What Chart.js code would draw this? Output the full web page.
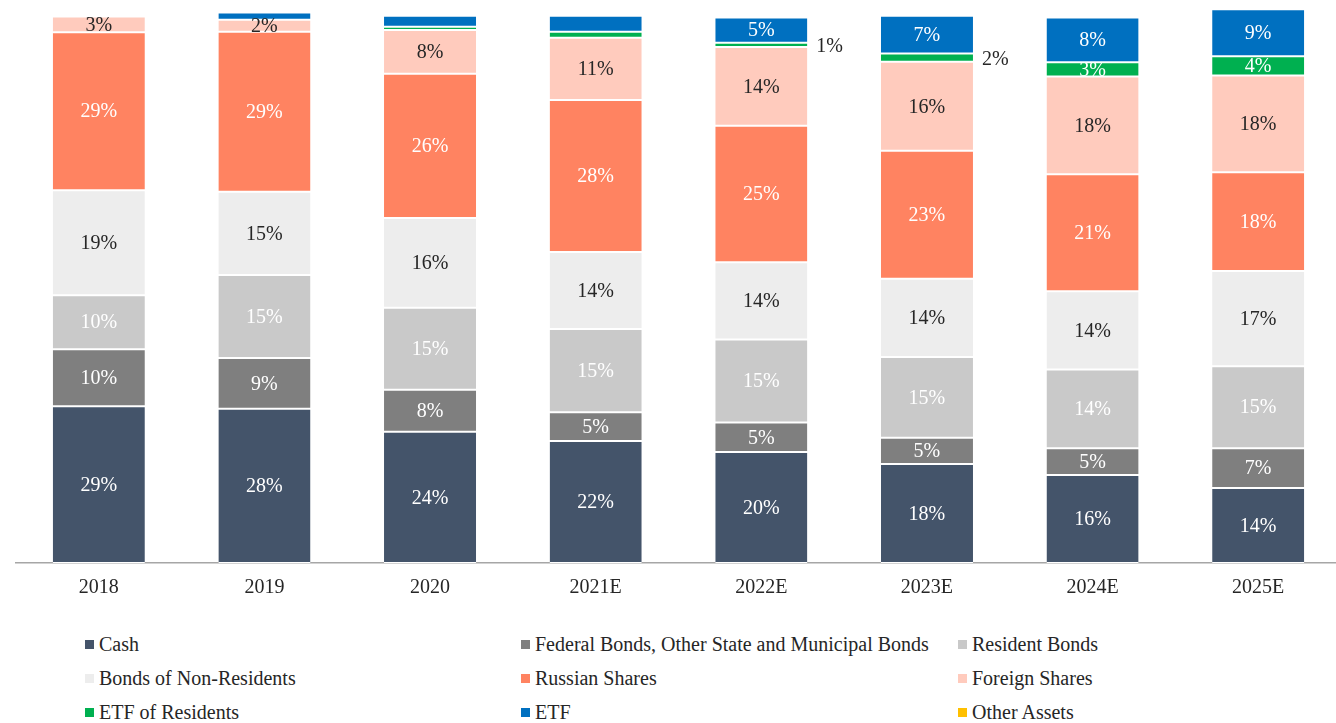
<!DOCTYPE html>
<html>
<head>
<meta charset="utf-8">
<script src="https://cdn.jsdelivr.net/npm/chart.js@4"></script>
<style>
  body { margin: 0; overflow: hidden; background: #fff; font-family: "Liberation Serif", serif; }
  #wrap { position: absolute; left: 0; top: 0; width: 1341px; height: 610px; }
  #legend { position: absolute; left: 0; top: 627px; width: 1336px; }
  .row { height: 34px; position: relative; }
  .item { position: absolute; top: 0; height: 34px; line-height: 34px; font-size: 20px; color: #262626; white-space: nowrap; }
  .box { position: absolute; left: 0; top: 13px; width: 9px; height: 9px; }
  .txt { position: absolute; left: 14px; top: 0; }
</style>
</head>
<body>
<div id="wrap"><canvas id="myChart"></canvas></div>
<div id="legend"></div>
<script>
var categories = ['2018', '2019', '2020', '2021E', '2022E', '2023E', '2024E', '2025E'];

var cash             = [28.7, 28.2, 24.0, 22.3, 20.3, 18.1, 16.1, 13.7];
var federalBonds     = [10.4, 9.3, 7.7, 5.3, 5.4, 4.8, 4.9, 7.3];
var residentBonds    = [9.9, 15.2, 15.0, 15.2, 15.2, 14.8, 14.4, 15.0];
var nonResidentBonds = [19.2, 15.2, 16.4, 14.1, 14.1, 14.3, 14.3, 17.4];
var russianShares    = [28.9, 29.3, 26.4, 27.8, 25.0, 23.4, 21.4, 18.1];
var foreignShares    = [2.9, 2.2, 8.0, 11.4, 14.4, 16.3, 17.9, 17.7];
var etfResidents     = [0, 0, 0.6, 1.1, 0.8, 1.5, 2.6, 3.5];
var etf              = [0, 1.3, 2.0, 2.9, 4.6, 6.9, 8.2, 8.6];
var otherAssets      = [0, 0, 0, 0, 0, 0, 0, 0];

var seriesNames = ['Cash', 'Federal Bonds, Other State and Municipal Bonds', 'Resident Bonds',
  'Bonds of Non-Residents', 'Russian Shares', 'Foreign Shares', 'ETF of Residents', 'ETF', 'Other Assets'];
var seriesData = [cash, federalBonds, residentBonds, nonResidentBonds, russianShares, foreignShares, etfResidents, etf, otherAssets];
var colors = ['#44546A', '#7F7F7F', '#C9C9C9', '#EDEDED', '#FF8361', '#FFCBBD', '#00B050', '#0070C0', '#FFC000'];
var labelColors = ['#fff', '#fff', '#fff', '#262626', '#fff', '#262626', '#fff', '#fff', '#fff'];

// labels that the original leaves out, and the ones put beside the bar
var hiddenLabels = ['2019|ETF', '2020|ETF', '2020|ETF of Residents', '2021E|ETF', '2021E|ETF of Residents'];
var outsideLabels = ['2022E|ETF of Residents', '2023E|ETF of Residents'];

var datasets = seriesNames.map(function (name, i) {
  return {
    label: name,
    data: seriesData[i],
    backgroundColor: colors[i],
    borderColor: '#fff',
    borderWidth: { top: 1, bottom: 1, left: 0, right: 0 },
    borderSkipped: false,
    barPercentage: 0.556,
    categoryPercentage: 1
  };
});

var barLabels = {
  id: 'barLabels',
  afterDatasetsDraw: function (chart) {
    var ctx = chart.ctx;
    ctx.save();
    ctx.font = '20px "Liberation Serif"';
    ctx.textBaseline = 'middle';
    chart.data.datasets.forEach(function (ds, i) {
      var meta = chart.getDatasetMeta(i);
      meta.data.forEach(function (bar, j) {
        var v = ds.data[j];
        if (!v) return;
        var key = categories[j] + '|' + ds.label;
        if (hiddenLabels.indexOf(key) >= 0) return;
        var y = (bar.y + bar.base) / 2;
        if (outsideLabels.indexOf(key) >= 0) {
          ctx.fillStyle = '#262626';
          ctx.textAlign = 'left';
          ctx.fillText(Math.round(v) + '%', bar.x + bar.width / 2 + 9, y + 2);
        } else {
          ctx.fillStyle = labelColors[i];
          ctx.textAlign = 'center';
          ctx.fillText(Math.round(v) + '%', bar.x, y + 1);
        }
      });
    });
    ctx.restore();
  }
};

new Chart(document.getElementById('myChart'), {
  type: 'bar',
  data: { labels: categories, datasets: datasets },
  options: {
    responsive: true,
    maintainAspectRatio: false,
    animation: false,
    layout: { padding: { left: 16, right: 0, top: 0, bottom: 0 } },
    plugins: { legend: { display: false }, tooltip: { enabled: false } },
    scales: {
      x: {
        stacked: true,
        grid: { display: false, drawTicks: false },
        border: { display: true, color: '#A6A6A6', width: 1.5 },
        ticks: { color: '#262626', font: { family: 'Liberation Serif', size: 20 }, padding: 13 },
        afterFit: function (scale) { scale.height = 47; }
      },
      y: { stacked: true, display: false, min: 0, max: 103 }
    }
  },
  plugins: [barLabels]
});

// legend, 3 columns
var legend = document.getElementById('legend');
var colX = [85, 521, 958];
for (var r = 0; r < 3; r++) {
  var row = document.createElement('div');
  row.className = 'row';
  for (var c = 0; c < 3; c++) {
    var k = r * 3 + c;
    var item = document.createElement('div');
    item.className = 'item';
    item.style.left = colX[c] + 'px';
    item.innerHTML = '<span class="box" style="background:' + colors[k] + '"></span><span class="txt">' + seriesNames[k] + '</span>';
    row.appendChild(item);
  }
  legend.appendChild(row);
}
</script>
</body>
</html>
